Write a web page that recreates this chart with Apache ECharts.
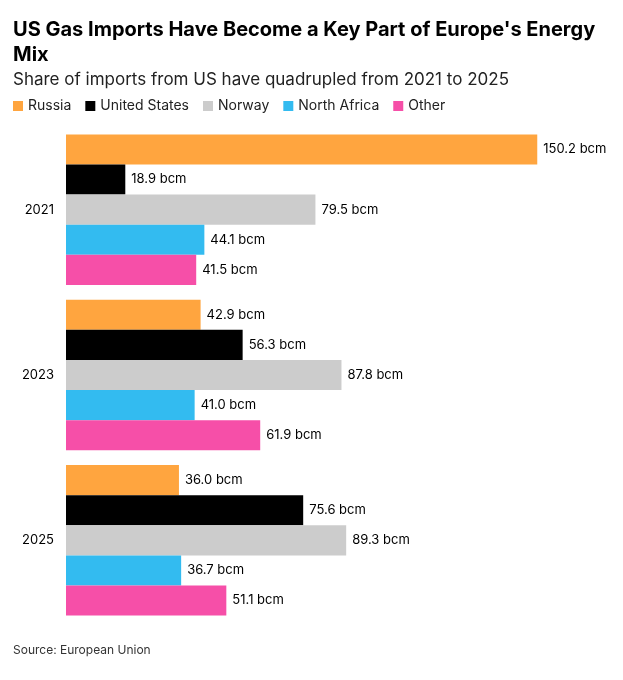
<!DOCTYPE html>
<html>
<head>
<meta charset="utf-8">
<script src="https://cdn.jsdelivr.net/npm/echarts@6/dist/echarts.min.js"></script>
<style>
  html, body { margin: 0; padding: 0; background: #fff; }
  #chart { width: 623px; height: 680px; }
</style>
</head>
<body>
<div id="chart"></div>
<script>
var years = ['2021', '2023', '2025'];
var seriesNames = ['Russia', 'United States', 'Norway', 'North Africa', 'Other'];
var russia = [150.2, 42.9, 36.0];
var unitedStates = [18.9, 56.3, 75.6];
var norway = [79.5, 87.8, 89.3];
var northAfrica = [44.1, 41.0, 36.7];
var other = [41.5, 61.9, 51.1];
var colors = ['#FFA53F', '#000000', '#CCCCCC', '#33BBF0', '#F64FA8'];

var font = 'Inter, "Noto Sans", sans-serif';
var values = [russia, unitedStates, norway, northAfrica, other];

var chart = echarts.init(document.getElementById('chart'));
var option = {
    animation: false,
    textStyle: { fontFamily: font },
    title: [{
        text: "US Gas Imports Have Become a Key Part of Europe's Energy\nMix",
        left: 8, top: 12,
        textStyle: { fontSize: 20, fontWeight: 'bold', color: '#000', lineHeight: 25, fontFamily: font }
    }, {
        text: 'Share of imports from US have quadrupled from 2021 to 2025',
        left: 8, top: 66,
        textStyle: { fontSize: 17, fontWeight: 'normal', color: '#222', fontFamily: font }
    }, {
        text: 'Source: European Union',
        left: 8, top: 639,
        textStyle: { fontSize: 12, fontWeight: 'normal', color: '#333', fontFamily: font }
    }],
    legend: {
        left: 8, top: 94,
        itemWidth: 10, itemHeight: 10, itemGap: 14,
        icon: 'rect',
        textStyle: { fontSize: 14, color: '#222', fontFamily: font },
        data: seriesNames
    },
    grid: { left: 66, right: 55, top: 127, bottom: 57, containLabel: false },
    xAxis: {
        type: 'value', min: 0, max: 160,
        show: false
    },
    yAxis: {
        type: 'category', data: years, inverse: true,
        axisLine: { show: false }, axisTick: { show: false },
        axisLabel: { fontSize: 13, color: '#000', margin: 12 }
    },
    series: seriesNames.map(function (name, i) {
        return {
            name: name,
            type: 'bar',
            data: values[i],
            itemStyle: { color: colors[i] },
            barGap: '0%',
            barCategoryGap: '9%',
            label: {
                show: true, position: 'right', distance: 6,
                fontSize: 13, color: '#000',
                formatter: function (p) { return p.value.toFixed(1) + ' bcm'; }
            }
        };
    })
};
chart.setOption(option);
</script>
</body>
</html>
